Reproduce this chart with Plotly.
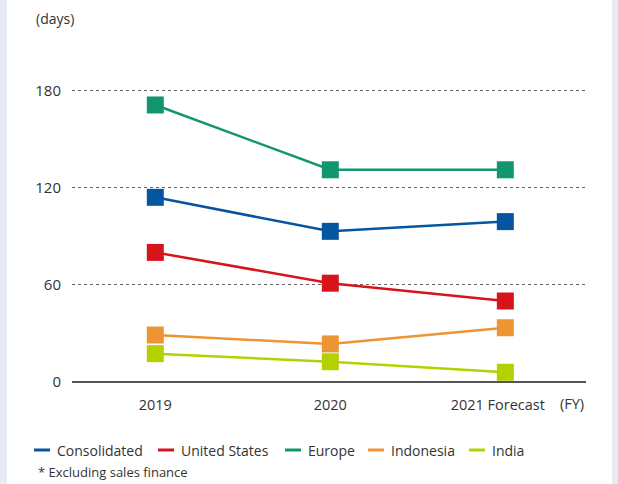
import plotly.graph_objects as go

# Fiscal years on the category axis
years = ["2019", "2020", "2021 Forecast"]

# Inventory days by region
consolidated = [114, 93, 99]
united_states = [80, 61, 50]
europe = [171, 131, 131]
indonesia = [29, 23.5, 33.5]
india = [17.5, 12.5, 6]

series_names = ["Consolidated", "United States", "Europe", "Indonesia", "India"]
series_values = [consolidated, united_states, europe, indonesia, india]
series_colors = ["#0555a0", "#d7141a", "#129670", "#ed9535", "#b5d000"]

y_ticks = [0, 60, 120, 180]

W, H = 618, 484
ML, MR, MT, MB = 72, 32, 58, 102
PW, PH = W - ML - MR, H - MT - MB
FONT = "Open Sans"


def px(x):
    return (x - ML) / PW


def py(y):
    return (H - MB - y) / PH


fig = go.Figure()
xs = list(range(len(years)))
for name, vals, color in zip(series_names, series_values, series_colors):
    fig.add_trace(go.Scatter(
        x=xs, y=vals, name=name, mode="lines+markers",
        line=dict(color=color, width=2.5),
        marker=dict(symbol="square", size=17, color=color),
        showlegend=False,
    ))

shapes = [
    # white panel over the tinted page
    dict(type="rect", xref="paper", yref="paper", x0=px(7), x1=px(612),
         y0=py(H + 5), y1=py(-5), fillcolor="white", line=dict(width=0),
         layer="below"),
]
annotations = [
    dict(text="(days)", xref="paper", yref="paper", x=px(34), y=py(18.5),
         xanchor="left", yanchor="middle", showarrow=False,
         font=dict(size=14, color="#333")),
    dict(text="(FY)", xref="paper", yref="paper", x=px(571.5), y=py(403),
         xanchor="center", yanchor="middle", showarrow=False,
         font=dict(size=14.5, color="#333")),
    dict(text="* Excluding sales finance", xref="paper", yref="paper",
         x=px(36), y=py(472), xanchor="left", yanchor="middle",
         showarrow=False, font=dict(size=13, color="#333")),
]

# legend row: short colour bar followed by the series name
legend_text_x = [55, 179, 306, 389, 490]
legend_y = 450
for name, color, tx in zip(series_names, series_colors, legend_text_x):
    shapes.append(dict(type="line", xref="paper", yref="paper",
                       x0=px(tx - 21), x1=px(tx - 5), y0=py(legend_y),
                       y1=py(legend_y), line=dict(color=color, width=3)))
    annotations.append(dict(text=name, xref="paper", yref="paper",
                            x=px(tx), y=py(legend_y), xanchor="left",
                            yanchor="middle", showarrow=False,
                            font=dict(size=14, color="#333")))

fig.update_layout(
    width=W, height=H,
    margin=dict(l=ML, r=MR, t=MT, b=MB, pad=0),
    paper_bgcolor="#e8ebf5",
    plot_bgcolor="rgba(0,0,0,0)",
    font=dict(family=FONT, color="#333"),
    shapes=shapes,
    annotations=annotations,
    xaxis=dict(
        range=[-0.476, 2.461], tickmode="array", tickvals=xs,
        ticktext=years[:2] + [years[2] + "\u00a0" * 4],
        showgrid=False, zeroline=False, showline=False, ticks="",
        ticklabelstandoff=12, tickfont=dict(size=14.5, color="#333"),
        fixedrange=True,
    ),
    yaxis=dict(
        range=[0, 200], tickmode="array", tickvals=y_ticks,
        showgrid=True, gridcolor="#666", griddash="dot", gridwidth=1,
        zeroline=True, zerolinecolor="#555", zerolinewidth=1.5,
        showline=False, ticks="", ticklabelstandoff=10,
        tickfont=dict(size=15, color="#333"), fixedrange=True,
    ),
)

fig.write_html("out.html")
